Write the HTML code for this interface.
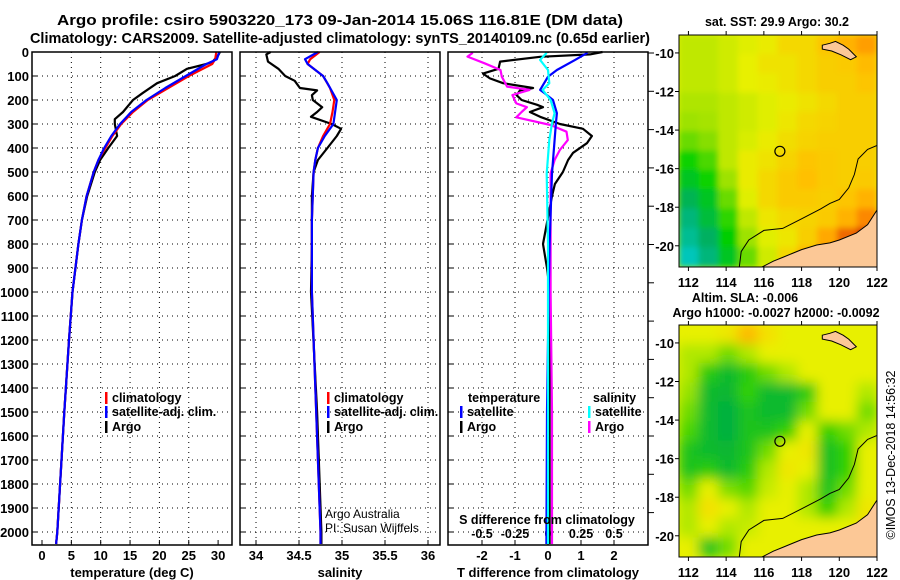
<!DOCTYPE html>
<html><head><meta charset="utf-8">
<style>
body{margin:0;background:#fff;}
svg{display:block;font-family:"Liberation Sans",Arial,sans-serif;}
.b{font-weight:bold;}
</style></head>
<body>
<svg id="root" width="900" height="580" viewBox="0 0 900 580">
<defs>
<filter id="blurS" x="0" y="0" width="1" height="1"><feGaussianBlur stdDeviation="3"/></filter>
<filter id="blurA" x="0" y="0" width="1" height="1"><feGaussianBlur stdDeviation="6"/></filter>
<clipPath id="clipM1"><rect x="679" y="35" width="198" height="232"/></clipPath>
<clipPath id="clipM2"><rect x="679" y="325" width="198" height="232"/></clipPath>
</defs>
<text class="b" x="57" y="25" font-size="15" textLength="566" lengthAdjust="spacingAndGlyphs">Argo profile: csiro 5903220_173 09-Jan-2014 15.06S 116.81E (DM data)</text>
<text class="b" x="30" y="43" font-size="15" textLength="620" lengthAdjust="spacingAndGlyphs">Climatology: CARS2009. Satellite-adjusted climatology: synTS_20140109.nc (0.65d earlier)</text>
<g id="g"></g>
</svg>
<script>
// ---------- data ----------
const depthTicks=[0,100,200,300,400,500,600,700,800,900,1000,1100,1200,1300,1400,1500,1600,1700,1800,1900,2000];
const tempTicks=[0,5,10,15,20,25,30];
const salTicks=[34,34.5,35,35.5,36];
const tdiffTicks=[-2,-1,0,1,2];
const sdiffTicks=[-0.5,-0.25,0,0.25,0.5];
const sdiffTickLabels=["-0.5","-0.25","0","0.25","0.5"];

const tArgoDepth=[0,10,40,50,70,100,130,170,200,250,280,300,350,400,450,500,600,700,800,1000,1200,1500,2000,2050];
const tArgo=[30.3,30.1,29.1,28.0,24.7,22.7,19.6,17.2,15.5,13.8,12.4,12.4,12.8,11.3,9.9,9.0,7.7,6.8,6.2,5.2,4.6,3.8,2.6,2.4];
const tClimDepth=[0,30,50,100,150,200,250,300,350,400,450,500,600,700,800,1000,1200,1500,2000,2050];
const tClim=[29.7,29.5,29.0,25.0,21.5,18.0,15.5,13.5,12.0,10.8,9.6,8.8,7.6,6.8,6.2,5.2,4.6,3.8,2.6,2.4];
const tSatDepth=[0,30,50,100,150,200,250,300,350,400,450,500,600,700,800,1000,1200,1500,2000,2050];
const tSat=[30.2,29.8,28.0,24.5,21.0,17.8,15.2,13.3,11.8,10.6,9.6,8.8,7.6,6.8,6.2,5.2,4.6,3.8,2.6,2.4];

const sArgoDepth=[0,10,40,70,100,120,150,160,180,200,230,250,270,300,320,350,400,450,500,600,800,1000,1500,2000,2050];
const sArgo=[34.17,34.12,34.14,34.26,34.34,34.45,34.51,34.71,34.65,34.66,34.77,34.71,34.64,34.88,34.99,34.94,34.83,34.72,34.67,34.65,34.65,34.64,34.71,34.76,34.76];
const sClimDepth=[0,30,50,100,150,200,250,300,350,400,450,500,700,1000,1500,2000,2050];
const sClim=[34.74,34.63,34.60,34.78,34.86,34.91,34.89,34.86,34.78,34.72,34.69,34.67,34.65,34.65,34.70,34.75,34.75];
const sSatDepth=[0,30,50,100,130,200,250,300,350,400,450,500,700,1000,1500,2000,2050];
const sSat=[34.72,34.57,34.60,34.78,34.83,34.94,34.92,34.90,34.80,34.72,34.69,34.67,34.65,34.65,34.70,34.75,34.75];

const dTArgoDepth=[0,10,20,40,70,90,110,130,150,160,180,200,220,230,250,270,300,320,350,380,420,450,500,550,600,800,900,1000,1500,2050];
const dTArgo=[1.65,1.27,-0.24,-1.45,-1.5,-1.97,-1.76,-1.36,-0.45,-0.85,-0.95,-0.8,-0.33,-0.15,-0.55,-0.24,0.36,1.06,1.33,1.18,0.76,0.61,0.45,0.21,0.12,-0.15,-0.03,0.06,0.05,0.05];
const dSArgoDepth=[3,19,47,75,103,144,158,179,214,230,250,272,304,332,367,408,450,506,1000,1500,2050];
const dSArgo=[-0.57,-0.61,-0.48,-0.36,-0.35,-0.31,-0.14,-0.27,-0.24,-0.16,-0.2,-0.24,0.02,0.14,0.15,0.09,0.05,0.02,0.02,0.03,0.03];
const dTSatDepth=[3,33,75,103,158,172,200,255,297,367,506,800,1000,1500,2050];
const dTSat=[1.2,0.82,0.27,0.0,-0.24,-0.1,0.15,0.27,0.24,0.2,0.12,0.05,0.02,-0.03,-0.05];
const dSSatDepth=[3,33,75,130,158,200,255,297,367,506,800,1500,2050];
const dSSat=[-0.01,-0.06,0.0,0.01,-0.04,0.02,0.05,0.03,0.01,-0.01,0.0,0.0,0.0];

// map fields (rows lat -9 -> -21, cols lon 111.5 -> 122), scaled 0..1
const sstField=[
[0.5,0.5,0.52,0.54,0.56,0.6,0.6,0.64,0.68,0.72],
[0.5,0.5,0.52,0.55,0.58,0.58,0.6,0.62,0.63,0.66],
[0.5,0.5,0.52,0.55,0.56,0.58,0.6,0.62,0.62,0.64],
[0.48,0.48,0.5,0.52,0.54,0.56,0.58,0.6,0.62,0.62],
[0.46,0.47,0.5,0.52,0.54,0.57,0.6,0.61,0.62,0.62],
[0.42,0.44,0.5,0.53,0.56,0.59,0.61,0.62,0.62,0.62],
[0.36,0.4,0.5,0.56,0.58,0.61,0.64,0.63,0.62,0.62],
[0.3,0.36,0.46,0.56,0.6,0.63,0.65,0.63,0.62,0.63],
[0.22,0.3,0.42,0.54,0.6,0.63,0.63,0.62,0.64,0.68],
[0.16,0.26,0.38,0.5,0.57,0.6,0.61,0.63,0.68,0.76],
[0.12,0.2,0.34,0.46,0.54,0.57,0.62,0.7,0.8,0.88],
[0.06,0.16,0.3,0.42,0.52,0.6,0.68,0.78,0.85,0.9]];
const slaField=[
[0.55,0.55,0.58,0.7,0.6,0.55,0.55,0.55,0.55,0.55],
[0.5,0.5,0.45,0.5,0.55,0.55,0.55,0.55,0.55,0.55],
[0.5,0.38,0.33,0.38,0.45,0.5,0.55,0.55,0.55,0.55],
[0.48,0.33,0.32,0.4,0.33,0.33,0.38,0.55,0.55,0.5],
[0.45,0.33,0.3,0.36,0.33,0.33,0.45,0.55,0.55,0.45],
[0.42,0.33,0.3,0.36,0.36,0.4,0.55,0.4,0.45,0.5],
[0.36,0.33,0.32,0.36,0.45,0.55,0.58,0.35,0.4,0.55],
[0.36,0.38,0.33,0.38,0.5,0.58,0.55,0.35,0.4,0.55],
[0.45,0.55,0.46,0.43,0.52,0.55,0.5,0.36,0.45,0.55],
[0.5,0.6,0.55,0.5,0.55,0.55,0.5,0.4,0.5,0.58],
[0.5,0.55,0.5,0.52,0.55,0.55,0.55,0.55,0.55,0.6],
[0.55,0.36,0.45,0.55,0.55,0.55,0.55,0.55,0.6,0.6]];
const latTicks=[-10,-12,-14,-16,-18,-20];
const lonTicks=[112,114,116,118,120,122];
const argoLon=116.85, argoLat=-15.1;
const coastLon=[115.9,116.5,117,117.5,118,118.8,119.5,120,120.9,121.5,122,122,115.9];
const coastLat=[-21.1,-20.8,-20.6,-20.4,-20.2,-19.96,-19.85,-19.7,-19.34,-18.9,-18.15,-21.1,-21.1];
const islandLon=[119.1,119.5,119.8,120.2,120.5,120.9,120.6,120.1,119.6,119.1];
const islandLat=[-9.6,-9.5,-9.4,-9.6,-9.8,-10.2,-10.35,-10.1,-9.9,-9.8];
const isobathLon=[114.7,114.8,115.2,116,117,118,119,119.5,120,120.5,120.8,121,121.5,122];
const isobathLat=[-21.1,-20.3,-19.7,-19.2,-19.1,-18.6,-18.1,-17.8,-17.6,-17.0,-16.3,-15.5,-15.0,-14.8];

// ---------- helpers ----------
const NS="http://www.w3.org/2000/svg";
const G=document.getElementById('g');
function el(t,a,p){const e=document.createElementNS(NS,t);for(const k in a)e.setAttribute(k,a[k]);(p||G).appendChild(e);return e;}
const Y0=52,YB=545;
const yD=d=>Y0+d*0.24;
const xT=t=>42+t*5.87;
const xS=s=>256+(s-34)*86;
const xDT=t=>548+t*33;
const xDS=s=>548+s*132;

function panelFrame(x0,name){
  const r=el('rect',{x:x0,y:Y0,width:200,height:YB-Y0,fill:'none',stroke:'#000','stroke-width':1.5});
  
  
}
function hgrid(x0){
  depthTicks.forEach(d=>{
    if(d===0)return;
    const l=el('line',{x1:x0,x2:x0+200,y1:yD(d),y2:yD(d),stroke:'#000','stroke-dasharray':'1 4','stroke-width':1});
    
    
    const t=el('line',{x1:x0,x2:x0+5,y1:yD(d),y2:yD(d),stroke:'#000'});
    
    
  });
}
function vgrid(vals,fx){
  vals.forEach(v=>{
    const l=el('line',{x1:fx(v),x2:fx(v),y1:Y0,y2:YB,stroke:'#000','stroke-dasharray':'1 4'});
    
    
  });
}
function txt(x,y,s,o){
  const e=el('text',Object.assign({x:x,y:y,'font-size':13,'class':'b'},o||{}));
  e.textContent=s;return e;
}
function line(xs,ds,fx,color,name){
  const pts=xs.map((v,i)=>fx(v).toFixed(1)+','+yD(ds[i]).toFixed(1)).join(' ');
  const p=el('polyline',{points:pts,fill:'none',stroke:color,'stroke-width':2.2,'stroke-linejoin':'round'});
  
  
}
function legendMark(x,y,color,label,name){
  const m=el('rect',{x:x,y:y-10,width:2.5,height:12,fill:color});
  
  
  const t=txt(x+7,y,label,{'font-size':12.5});
  
  
}

// ---------- panel 1 ----------
hgrid(32);
vgrid(tempTicks.filter(v=>v>0&&v<30),xT);
depthTicks.forEach(d=>{
  const t=txt(29,yD(d)+5,String(d),{'text-anchor':'end'});
  
  
});
tempTicks.forEach(v=>{
  const t=txt(xT(v),560,String(v),{'text-anchor':'middle'});
  
  
  el('line',{x1:xT(v),x2:xT(v),y1:YB,y2:YB-5,stroke:'#000'});
});
line(tArgo,tArgoDepth,xT,'#000','temperature-argo-line');
line(tClim,tClimDepth,xT,'#f00','temperature-climatology-line');
line(tSat,tSatDepth,xT,'#00f','temperature-satellite-line');
panelFrame(32,'temperature-panel');
let t1=txt(132,577,'temperature (deg C)',{'text-anchor':'middle'});


legendMark(105,402,'#f00','climatology','temperature-legend-climatology');
legendMark(105,416,'#00f','satellite-adj. clim.','temperature-legend-satellite');
legendMark(105,431,'#000','Argo','temperature-legend-argo');

// ---------- panel 2 ----------
hgrid(240);
vgrid(salTicks,xS);
salTicks.forEach(v=>{
  const t=txt(xS(v),560,String(v),{'text-anchor':'middle'});
  
  
  el('line',{x1:xS(v),x2:xS(v),y1:YB,y2:YB-5,stroke:'#000'});
});
line(sArgo,sArgoDepth,xS,'#000','salinity-argo-line');
line(sClim,sClimDepth,xS,'#f00','salinity-climatology-line');
line(sSat,sSatDepth,xS,'#00f','salinity-satellite-line');
panelFrame(240,'salinity-panel');
let t2=txt(340,577,'salinity',{'text-anchor':'middle'});


legendMark(327,402,'#f00','climatology','salinity-legend-climatology');
legendMark(327,416,'#00f','satellite-adj. clim.','salinity-legend-satellite');
legendMark(327,431,'#000','Argo','salinity-legend-argo');
let c1=el('text',{x:325,y:518,'font-size':12});c1.textContent='Argo Australia';


let c2=el('text',{x:325,y:532,'font-size':12});c2.textContent='PI: Susan Wijffels';



// ---------- panel 3 ----------
hgrid(448);
vgrid(tdiffTicks,xDT);
for(let k=0;k<13;k++){
  const y=53+k*38.3; if(y>YB)break;
  const tk=el('line',{x1:648,x2:654,y1:y,y2:y,stroke:'#000'});
  
  
}
tdiffTicks.forEach(v=>{
  const t=txt(xDT(v),560,String(v),{'text-anchor':'middle'});
  
  
  el('line',{x1:xDT(v),x2:xDT(v),y1:YB,y2:YB-5,stroke:'#000'});
});
sdiffTicks.forEach((v,i)=>{
  const t=txt(xDS(v),538,sdiffTickLabels[i],{'text-anchor':'middle','font-size':12.5});
  
  
});
line(dTArgo,dTArgoDepth,xDT,'#000','tdiff-argo-line');
line(dSArgo,dSArgoDepth,xDS,'#f0f','sdiff-argo-line');
line(dTSat,dTSatDepth,xDT,'#00f','tdiff-satellite-line');
line(dSSat,dSSatDepth,xDS,'#0ff','sdiff-satellite-line');
panelFrame(448,'difference-panel');
let t3=txt(548,577,'T difference from climatology',{'text-anchor':'middle'});


let t4=txt(547,524,'S difference from climatology',{'text-anchor':'middle','font-size':12.5});


let lt=txt(468,402,'temperature',{'font-size':12.5});


let ls=txt(593,402,'salinity',{'font-size':12.5});


legendMark(460,416,'#00f','satellite','diff-legend-t-satellite');
legendMark(460,431,'#000','Argo','diff-legend-t-argo');
legendMark(588,416,'#0ff','satellite','diff-legend-s-satellite');
legendMark(588,431,'#f0f','Argo','diff-legend-s-argo');

// ---------- maps ----------
const MX=679,MW=198,MH=232;
const lonX=lo=>MX+(lo-111.5)*MW/10.5;
function cmapSST(v){
  const stops=[[0,[0,208,224]],[0.2,[0,176,96]],[0.35,[0,208,0]],[0.45,[150,224,0]],[0.55,[232,240,0]],[0.65,[255,192,0]],[0.75,[255,144,0]],[0.85,[224,64,0]],[1,[160,0,0]]];
  for(let i=1;i<stops.length;i++){if(v<=stops[i][0]){const a=stops[i-1],b=stops[i],f=(v-a[0])/(b[0]-a[0]);return 'rgb('+a[1].map((c,j)=>Math.round(c+(b[1][j]-c)*f)).join(',')+')';}}
  return 'rgb(160,0,0)';
}
function cmapSLA(v){
  const stops=[[0.3,[0,176,64]],[0.4,[48,208,0]],[0.5,[176,232,0]],[0.55,[232,240,0]],[0.65,[255,208,0]],[0.75,[255,160,0]]];
  if(v<=0.3)return 'rgb(0,176,64)';
  for(let i=1;i<stops.length;i++){if(v<=stops[i][0]){const a=stops[i-1],b=stops[i],f=(v-a[0])/(b[0]-a[0]);return 'rgb('+a[1].map((c,j)=>Math.round(c+(b[1][j]-c)*f)).join(',')+')';}}
  return 'rgb(255,160,0)';
}
function drawMap(MY,field,cmap,filt,clip,name){
  const latY=la=>MY+(-9.07-la)*MH/12.03;
  const grp=el('g',{'clip-path':'url(#'+clip+')'});
  
  
  el('rect',{x:MX,y:MY,width:MW,height:MH,fill:cmap(0.55)},grp);
  const inner=el('g',{filter:'url(#'+filt+')'},grp);
  const cw=MW/field[0].length,ch=MH/field.length;
  field.forEach((row,r)=>row.forEach((v,c)=>{
    const cell=el('rect',{x:MX+c*cw-0.5,y:MY+r*ch-0.5,width:cw+1,height:ch+1,fill:cmap(v)},inner);
    
    
  }));
  const poly=(xs,ys,fill,nm)=>{
    const p=el('polygon',{points:xs.map((v,i)=>lonX(v).toFixed(1)+','+latY(ys[i]).toFixed(1)).join(' '),fill:fill,stroke:'#000','stroke-width':1},grp);
    
    
  };
  poly(coastLon,coastLat,'#fcc896','australia-land');
  poly(islandLon,islandLat,'#fcc896','island-land');
  const iso=el('polyline',{points:isobathLon.map((v,i)=>lonX(v).toFixed(1)+','+latY(isobathLat[i]).toFixed(1)).join(' '),fill:'none',stroke:'#000','stroke-width':1},grp);
  
  
  const circ=el('circle',{cx:lonX(argoLon),cy:latY(argoLat),r:5,fill:'none',stroke:'#000','stroke-width':1.2});
  
  
  const fr=el('rect',{x:MX,y:MY,width:MW,height:MH,fill:'none',stroke:'#000','stroke-width':1});
  
  
  latTicks.forEach(la=>{
    const t=txt(674,latY(la)+5,String(la),{'text-anchor':'end'});
    
    
    el('line',{x1:MX-4,x2:MX,y1:latY(la),y2:latY(la),stroke:'#000'});
  });
  lonTicks.forEach(lo=>{
    const t=txt(lonX(lo),MY+MH+20,String(lo),{'text-anchor':'middle'});
    
    
    el('line',{x1:lonX(lo),x2:lonX(lo),y1:MY+MH,y2:MY+MH+4,stroke:'#000'});
    el('line',{x1:lonX(lo),x2:lonX(lo),y1:MY,y2:MY-4,stroke:'#000'});
  });
}
drawMap(35,sstField,cmapSST,'blurS','clipM1','sst-map');
drawMap(325,slaField,cmapSLA,'blurA','clipM2','sla-map');
let m1=txt(777,26,'sat. SST: 29.9 Argo: 30.2',{'text-anchor':'middle','font-size':12.5});


let m2=txt(745,302,'Altim. SLA: -0.006',{'text-anchor':'middle','font-size':12.5});


let m3=txt(776,317,'Argo h1000: -0.0027 h2000: -0.0092',{'text-anchor':'middle','font-size':12.5});


let cr=el('text',{x:0,y:0,'font-size':12.5,'text-anchor':'middle',transform:'translate(895,455) rotate(-90)'});
cr.textContent='©IMOS 13-Dec-2018 14:56:32';


</script>
</body></html>
